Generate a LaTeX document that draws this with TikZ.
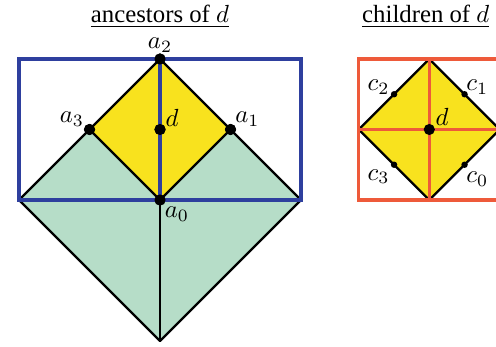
\documentclass[tikz,border=0pt]{standalone}
\usepackage{fontspec}
\setmainfont{Liberation Serif}
\usepackage{tikz}
\usetikzlibrary{positioning,calc}
\definecolor{ancblue}{HTML}{2E3F9E}
\definecolor{kidred}{HTML}{EE5A3A}
\definecolor{cellyellow}{HTML}{F8E21E}
\definecolor{cellgreen}{HTML}{B6DDC8}
\tikzset{
  edge/.style={black,line width=0.9pt,line join=round},
  bluebox/.style={ancblue,line width=1.3pt},
  redbox/.style={kidred,line width=1.3pt},
  bigdot/.style={circle,fill=black,inner sep=0pt,minimum size=4.5pt},
  smalldot/.style={circle,fill=black,inner sep=0pt,minimum size=2.6pt},
  lab/.style={inner sep=0pt},
  heading/.style={inner sep=1pt},
}

\begin{document}
\begin{tikzpicture}
  \useasboundingbox (-2.27,-2.085) rectangle (4.766,2.837);
  % ancestors of d
  \coordinate (lft) at (-2,0);
  \coordinate (rgt) at (2,0);
  \coordinate (bot) at (0,-2);
  \fill[cellgreen] (0,2) -- (lft) -- (bot) -- (rgt) -- cycle;
  \fill[cellyellow] (0,2) -- (-1,1) -- (0,0) -- (1,1) -- cycle;
  \node[bigdot] (a2) at (0,2) {};
  \node[bigdot] (a3) at (-1,1) {};
  \node[bigdot] (a1) at (1,1) {};
  \node[bigdot] (a0) at (0,0) {};
  \node[bigdot] (dA) at (0,1) {};
  \draw[edge] (a3.center) -- (a2.center) -- (a1.center);
  \draw[edge] (a3.center) -- (a0.center) -- (a1.center);
  \draw[edge] (a3.center) -- (lft) -- (bot) -- (rgt) -- (a1.center);
  \draw[edge] (a0.center) -- (bot);
  \draw[bluebox] (lft) rectangle (2,2);
  \draw[bluebox] (a2.center) -- (a0.center);
  \foreach \p in {a2,a3,a1,a0,dA} {\fill (\p) circle (2.25pt);}
  \node[lab] (a2lab) at ($(a2)+(0,0.2)$) {$a_2$};
  \node[lab] (a3lab) at ($(a3)+(-0.25,0.15)$) {$a_3$};
  \node[lab] (a1lab) at ($(a1)+(0.24,0.15)$) {$a_1$};
  \node[lab] (a0lab) at ($(a0)+(0.24,-0.2)$) {$a_0$};
  \node[lab] (dAlab) at ($(dA)+(0.17,0.16)$) {$d$};
  \node[heading] (anctitle) at (0,2.6) {\underline{ancestors of $d$}};

  % children of d
  \coordinate (kt) at (3.82,2);
  \coordinate (kl) at (2.82,1);
  \coordinate (kb) at (3.82,0);
  \coordinate (kr) at (4.82,1);
  \fill[cellyellow] (kt) -- (kl) -- (kb) -- (kr) -- cycle;
  \draw[edge] (kt) -- (kl) -- (kb) -- (kr) -- cycle;
  \draw[redbox] (2.82,0) rectangle (4.82,2);
  \draw[redbox] (kt) -- (kb);
  \draw[redbox] (kl) -- (kr);
  \node[smalldot] (c2) at ($(kt)!0.5!(kl)$) {};
  \node[smalldot] (c1) at ($(kt)!0.5!(kr)$) {};
  \node[smalldot] (c3) at ($(kb)!0.5!(kl)$) {};
  \node[smalldot] (c0) at ($(kb)!0.5!(kr)$) {};
  \node[bigdot] (dC) at (3.82,1) {};
  \node[lab] (c2lab) at ($(c2)+(-0.22,0.1)$) {$c_2$};
  \node[lab] (c1lab) at ($(c1)+(0.18,0.1)$) {$c_1$};
  \node[lab] (c3lab) at ($(c3)+(-0.22,-0.17)$) {$c_3$};
  \node[lab] (c0lab) at ($(c0)+(0.18,-0.2)$) {$c_0$};
  \node[lab] (dClab) at ($(dC)+(0.18,0.18)$) {$d$};
  \node[heading] (kidtitle) at (3.77,2.6) {\underline{children of $d$}};
\end{tikzpicture}
\end{document}
